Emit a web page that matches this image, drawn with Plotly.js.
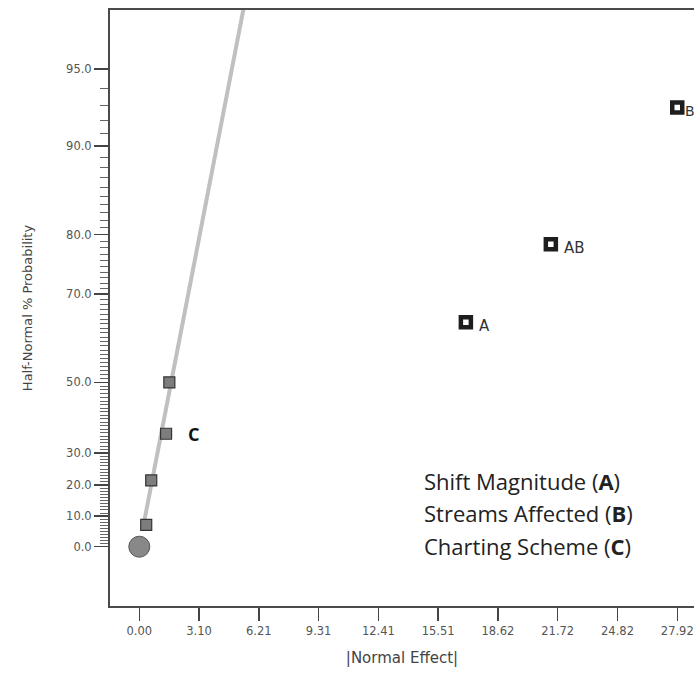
<!DOCTYPE html>
<html>
<head>
<meta charset="utf-8">
<script src="https://cdn.plot.ly/plotly-3.0.1.min.js"></script>
<style>html,body{margin:0;padding:0;background:#fff;overflow:hidden}</style>
</head>
<body>
<div id="chart" style="width:694px;height:692px"></div>
<script>
// ---- data ----
const originX = [0.0];
const originP = [0.0];
const smallX = [0.36, 0.62, 1.39, 1.56];          // |Normal Effect| of small effects
const smallP = [7.14, 21.43, 35.71, 50.0];        // half-normal % probability
const smallLabels = ['', '', 'C', ''];
const bigX = [16.95, 21.36, 27.92];               // significant effects
const bigP = [64.29, 78.57, 92.86];
const bigLabels = ['A', 'AB', 'B'];
const lineX = [0.22, 5.70];                        // fitted half-normal line
const lineP = [7.14, 98.0];
const yTickP = [0, 10, 20, 30, 50, 70, 80, 90, 95];
const yTickText = ['0.0', '10.0', '20.0', '30.0', '50.0', '70.0', '80.0', '90.0', '95.0'];
const xTickVals = [0, 3.1025, 6.205, 9.3075, 12.41, 15.5125, 18.615, 21.7175, 24.82, 27.9225];
const xTickText = ['0.00', '3.10', '6.21', '9.31', '12.41', '15.51', '18.62', '21.72', '24.82', '27.92'];
const factorLegend = ['Shift Magnitude (<b>A</b>)', 'Streams Affected (<b>B</b>)', 'Charting Scheme (<b>C</b>)'];

// ---- half-normal probability scale ----
function normInv(p) {
  const a = [-3.969683028665376e+01, 2.209460984245205e+02, -2.759285104469687e+02, 1.383577518672690e+02, -3.066479806614716e+01, 2.506628277459239e+00];
  const b = [-5.447609879822406e+01, 1.615858368580409e+02, -1.556989798598866e+02, 6.680131188771972e+01, -1.328068155288572e+01];
  const c = [-7.784894002430293e-03, -3.223964580411365e-01, -2.400758277161838e+00, -2.549732539343734e+00, 4.374664141464968e+00, 2.938163982698783e+00];
  const d = [7.784695709041462e-03, 3.224671290700398e-01, 2.445134137142996e+00, 3.754408661907416e+00];
  const pl = 0.02425, ph = 1 - pl;
  let q, r;
  if (p < pl) { q = Math.sqrt(-2 * Math.log(p)); return (((((c[0]*q+c[1])*q+c[2])*q+c[3])*q+c[4])*q+c[5]) / ((((d[0]*q+d[1])*q+d[2])*q+d[3])*q+1); }
  if (p <= ph) { q = p - 0.5; r = q*q; return (((((a[0]*r+a[1])*r+a[2])*r+a[3])*r+a[4])*r+a[5])*q / (((((b[0]*r+b[1])*r+b[2])*r+b[3])*r+b[4])*r+1); }
  q = Math.sqrt(-2 * Math.log(1 - p)); return -(((((c[0]*q+c[1])*q+c[2])*q+c[3])*q+c[4])*q+c[5]) / ((((d[0]*q+d[1])*q+d[2])*q+d[3])*q+1);
}
function hz(pct) { return pct <= 0 ? 0 : normInv((1 + pct / 100) / 2); }

const minorVals = [];
for (let i = 1; i <= 94; i++) if (yTickP.indexOf(i) < 0) minorVals.push(hz(i));

const xRange = [-1.52, 28.79];

const traces = [
  { x: lineX, y: lineP.map(hz), mode: 'lines', line: { color: '#c0c0c0', width: 4 }, hoverinfo: 'skip' },
  { x: originX, y: originP.map(hz), mode: 'markers', cliponaxis: false,
    marker: { symbol: 'circle', size: 21, color: '#888888', line: { color: '#555', width: 1 } } },
  { x: smallX, y: smallP.map(hz), mode: 'markers', cliponaxis: false,
    marker: { symbol: 'square', size: 11, color: '#7d7d7d', line: { color: '#333', width: 1.2 } } },
  { x: bigX, y: bigP.map(hz), mode: 'markers', cliponaxis: false,
    marker: { symbol: 'square', size: 10, color: '#ffffff', line: { color: '#1e1e1e', width: 4.5 } } }
];

const annotations = [];
bigX.forEach((x, i) => {
  // keep the label inside the picture when the point is close to the right edge
  const nearEdge = (xRange[1] - x) < 1.2;
  annotations.push({ x: x, y: hz(bigP[i]), text: bigLabels[i], showarrow: false,
    xanchor: 'left', xshift: nearEdge ? 6 : 11, yshift: -4,
    font: { family: 'DejaVu Sans, sans-serif', size: nearEdge ? 14 : 15, color: '#333' } });
});
smallX.forEach((x, i) => { if (smallLabels[i]) annotations.push({ x: x, y: hz(smallP[i]), text: '<b>' + smallLabels[i] + '</b>', showarrow: false,
  xanchor: 'left', xshift: 20, yshift: 0, font: { family: 'Open Sans, sans-serif', size: 18, color: '#111' } }); });
factorLegend.forEach((t, i) => annotations.push({ xref: 'paper', yref: 'paper', x: 0.535, y: 0.210 - i * 0.0545,
  text: t, showarrow: false, xanchor: 'left', yanchor: 'middle', font: { family: 'Open Sans, sans-serif', size: 22, color: '#222' } }));

const layout = {
  width: 694, height: 692,
  margin: { l: 110, r: 0, t: 10, b: 86 },
  paper_bgcolor: '#fff', plot_bgcolor: '#fff',
  showlegend: false,
  font: { family: 'DejaVu Sans, sans-serif', color: '#555', size: 11 },
  xaxis: {
    range: xRange, tickmode: 'array', tickvals: xTickVals, ticktext: xTickText,
    ticks: 'outside', ticklen: 13, tickwidth: 1.5, tickcolor: '#444',
    showline: true, linecolor: '#4a4a4a', linewidth: 2, mirror: true,
    showgrid: false, zeroline: false,
    tickfont: { family: 'DejaVu Sans, sans-serif', size: 11.5, color: '#555' },
    title: { text: '|Normal Effect|', font: { family: 'DejaVu Sans, sans-serif', size: 15, color: '#444' }, standoff: 16 }
  },
  yaxis: {
    range: [-0.2434, 2.203], tickmode: 'array', tickvals: yTickP.map(hz), ticktext: yTickText,
    ticks: 'outside', ticklen: 14, tickwidth: 1.5, tickcolor: '#444',
    minor: { tickvals: minorVals, ticks: 'outside', ticklen: 8, tickwidth: 1, tickcolor: '#666' },
    showline: true, linecolor: '#4a4a4a', linewidth: 2,
    showgrid: false, zeroline: false,
    tickfont: { family: 'DejaVu Sans, sans-serif', size: 11.5, color: '#555' },
    title: { text: 'Half-Normal % Probability', font: { family: 'DejaVu Sans, sans-serif', size: 13, color: '#444' }, standoff: 31 }
  },
  annotations: annotations
};

Plotly.newPlot('chart', traces, layout, { displayModeBar: false, staticPlot: true });
</script>
</body>
</html>
